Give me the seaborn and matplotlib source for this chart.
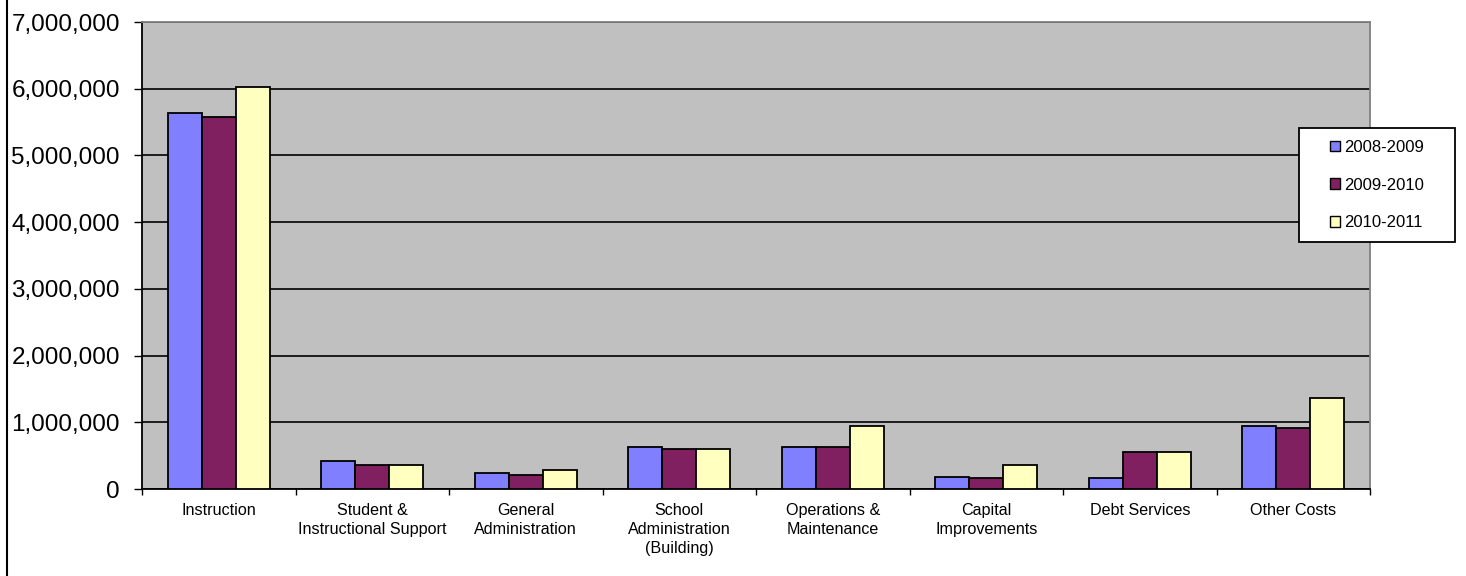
import matplotlib
matplotlib.use('Agg')
import matplotlib.pyplot as plt
import matplotlib.ticker as mticker
from matplotlib.patches import Rectangle
from matplotlib.lines import Line2D
import seaborn as sns
import pandas as pd

# chart data
categories = ['Instruction', 'Student &\nInstructional Support', 'General\nAdministration',
              'School\nAdministration\n(Building)', 'Operations &\nMaintenance',
              'Capital\nImprovements', 'Debt Services', 'Other Costs']
years = ['2008-2009', '2009-2010', '2010-2011']
fy2009 = [5640000, 420000, 245000, 635000, 635000, 185000, 160000, 940000]
fy2010 = [5570000, 360000, 215000, 605000, 635000, 160000, 555000, 910000]
fy2011 = [6030000, 360000, 280000, 605000, 940000, 355000, 555000, 1360000]
colors = ['#8080FF', '#802060', '#FFFFC0']

df = pd.DataFrame({
    'category': categories * 3,
    'year': [years[0]] * 8 + [years[1]] * 8 + [years[2]] * 8,
    'value': fy2009 + fy2010 + fy2011,
})

plt.rcParams['font.family'] = ['Liberation Sans', 'DejaVu Sans']

W, H = 1466, 576
fig = plt.figure(figsize=(W / 100, H / 100), dpi=100)
ax = fig.add_axes([142 / W, 1 - 489 / H, (1370 - 142) / W, (489 - 22) / H])
ax.set_facecolor('#C0C0C0')

sns.barplot(data=df, x='category', y='value', hue='year', order=categories,
            hue_order=years, palette=colors, width=0.667, edgecolor='black',
            linewidth=1.3, saturation=1, ax=ax, legend=False, zorder=3)

ax.set_xlim(-0.5, 7.5)
ax.set_ylim(0, 7000000)
ax.set_yticks(range(0, 7000001, 1000000))
ax.yaxis.set_major_formatter(mticker.FuncFormatter(lambda v, p: f'{int(v):,}'))
ax.yaxis.grid(True, color='black', linewidth=1.2, zorder=0)
ax.set_axisbelow(True)
ax.set_xlabel('')
ax.set_ylabel('')

ax.tick_params(axis='y', length=6, width=1, pad=10, labelsize=17.5)
ax.tick_params(axis='x', which='major', length=0, pad=10, labelsize=11.6)
ax.set_xticks([i + 0.5 for i in range(-1, 8)], minor=True)
ax.tick_params(axis='x', which='minor', length=4, width=1, direction='out')
for lbl in ax.get_xticklabels():
    lbl.set_linespacing(1.33)

for side in ['left', 'bottom']:
    ax.spines[side].set_color('black')
    ax.spines[side].set_linewidth(1.3)
for side in ['top', 'right']:
    ax.spines[side].set_color('#808080')
    ax.spines[side].set_linewidth(1.3)

# legend box drawn by hand to get the Excel look
fig.patches.append(Rectangle((1299 / W, 1 - 242 / H), 156 / W, 114 / H,
                             transform=fig.transFigure, facecolor='white',
                             edgecolor='black', linewidth=1.3, zorder=5))
handles = [Rectangle((0, 0), 1, 1, facecolor=c, edgecolor='black', linewidth=1)
           for c in colors]
leg = fig.legend(handles, years, loc='center', bbox_to_anchor=(1377 / W, 1 - 185 / H),
                 frameon=False, fontsize=12, handlelength=0.6, handleheight=0.6,
                 handletextpad=0.3, labelspacing=1.36)
leg.set_zorder(6)

# outer chart border on the left
fig.add_artist(Line2D([7 / W, 7 / W], [0, 1], transform=fig.transFigure,
                      color='black', linewidth=1.5))

fig.savefig('out.png', dpi=100)
